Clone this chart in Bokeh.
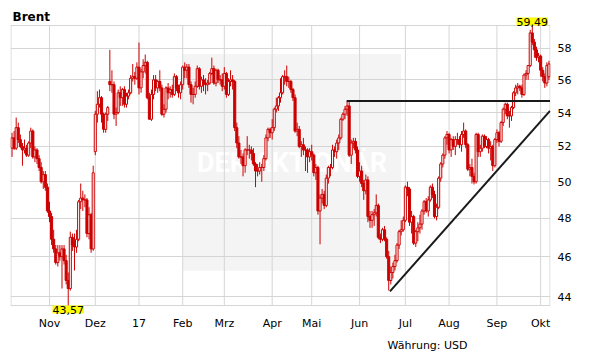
import math
from bokeh.plotting import figure
from bokeh.models import FixedTicker, PrintfTickFormatter, Range1d, Label, ColumnDataSource, Title
from bokeh.core.properties import value
from bokeh.embed import file_html
from bokeh.resources import INLINE

title_text = "Brent"
currency_note = "Währung: USD"
high_label = "59,49"
low_label = "43,57"

# first trading day (bar index) of each month and its label
month_start = [18, 40, 61, 82, 102, 125, 144, 167, 189, 210, 233, 254]
month_labels = ["Nov", "Dez", "17", "Feb", "Mrz", "Apr", "Mai", "Jun", "Jul", "Aug", "Sep", "Okt"]
y_ticks = [44, 46, 48, 50, 52, 54, 56, 58]
y_min, y_max = 43.57, 59.49

# daily OHLC, Oct 6 2016 .. Oct 6 2017 (one row per month)
opens = [
    51.9, 52.5, 51.9, 53.1, 52.4, 52.0, 51.8, 51.9, 51.5, 52.2, 52.9, 51.4, 51.8, 51.3, 50.8, 50.0, 50.4, 49.7,
    48.4, 48.1, 46.9, 46.4, 45.7, 46.2, 46.0, 46.4, 45.8, 44.8, 44.4, 47.0, 46.6, 46.5, 46.9, 48.9, 49.1, 49.0, 49.0, 47.2, 48.2, 46.4,
    51.7, 53.9, 54.5, 54.9, 53.9, 53.0, 53.9, 55.9, 55.7, 55.7, 53.9, 54.0, 55.2, 54.9, 55.4, 54.5, 55.0, 55.2, 56.1, 56.2, 56.1,
    56.8, 55.5, 56.5, 56.9, 57.1, 54.9, 53.6, 55.1, 56.0, 55.5, 55.9, 55.5, 53.9, 54.2, 55.5, 55.2, 55.4, 55.1, 56.2, 55.5, 55.2,
    55.7, 56.8, 56.6, 56.8, 55.7, 55.1, 55.1, 55.6, 56.7, 55.6, 56.0, 55.8, 55.7, 55.8, 56.4, 56.7, 55.8, 56.6, 56.0, 56.0,
    55.6, 56.4, 55.1, 55.9, 56.0, 55.9, 53.1, 52.2, 51.4, 51.4, 50.9, 51.8, 51.8, 51.8, 51.6, 51.0, 50.6, 50.6, 50.8, 50.8, 51.3, 52.5, 53.0,
    52.8, 53.1, 54.2, 54.4, 54.9, 55.2, 56.2, 56.2, 55.9, 55.9, 55.4, 54.9, 52.9, 53.0, 52.0, 52.1, 51.8, 51.8, 51.4,
    51.7, 51.5, 50.5, 50.8, 48.4, 49.1, 49.3, 48.7, 50.2, 50.8, 50.8, 51.8, 51.7, 52.2, 52.5, 53.6, 53.9, 54.2, 54.4, 51.5, 52.2, 52.3, 51.8,
    50.3, 50.6, 49.9, 49.5, 50.1, 48.1, 47.9, 48.2, 48.3, 48.7, 47.0, 46.9, 47.4, 46.9, 46.0, 44.8, 45.2, 45.5, 45.8, 46.6, 47.3, 47.4,
    47.9, 49.7, 49.6, 47.8, 48.1, 46.7, 47.3, 47.5, 47.7, 48.4, 48.9, 48.4, 49.0, 49.7, 49.3, 48.1, 48.6, 50.2, 51.0, 51.5, 52.5,
    52.7, 51.8, 52.4, 52.0, 52.4, 52.4, 52.1, 52.7, 52.9, 52.1, 50.7, 50.8, 50.3, 50.0, 52.7, 51.7, 51.9, 52.6, 52.0, 52.4, 51.9, 52.0, 50.9,
    52.4, 52.8, 52.3, 53.4, 54.2, 54.5, 53.8, 53.8, 54.3, 55.2, 55.5, 55.6, 55.5, 55.1, 56.3, 56.4, 56.9, 59.0, 58.4, 57.9, 57.4,
    57.5, 56.6, 56.2, 55.8, 56.2,
]
highs = [
    52.8, 52.9, 53.7, 53.4, 52.7, 52.2, 52.4, 52.1, 52.3, 53.1, 53.0, 52.0, 51.9, 51.5, 51.1, 50.6, 50.6, 49.9,
    48.9, 48.3, 47.4, 46.6, 46.6, 46.6, 46.6, 46.6, 46.1, 45.2, 47.3, 47.2, 47.2, 47.4, 49.0, 49.9, 49.5, 49.3, 49.1, 48.6, 48.3, 50.9,
    54.1, 55.3, 55.4, 55.0, 54.0, 54.0, 54.4, 57.9, 56.6, 55.9, 54.3, 55.4, 55.6, 55.5, 55.6, 55.2, 55.4, 56.3, 57.0, 56.5, 57.1,
    58.37, 56.7, 57.3, 57.6, 57.2, 55.2, 55.4, 56.3, 56.3, 56.0, 56.6, 55.7, 54.5, 55.6, 55.8, 55.6, 55.7, 56.4, 56.3, 55.7, 55.9,
    56.9, 57.1, 57.0, 57.0, 55.9, 55.5, 55.9, 56.9, 56.8, 56.2, 56.3, 56.1, 56.0, 56.5, 57.4, 56.9, 56.7, 56.7, 56.3, 56.4,
    56.8, 56.5, 56.1, 56.6, 56.3, 56.0, 53.4, 52.6, 51.8, 51.6, 51.9, 52.6, 52.1, 52.0, 51.9, 51.1, 51.0, 51.1, 51.0, 51.5, 52.7, 53.1, 53.1,
    53.6, 54.3, 54.9, 55.0, 56.1, 56.3, 56.6, 56.9, 56.2, 56.0, 55.5, 55.1, 53.4, 53.2, 52.3, 52.5, 52.0, 51.9, 51.9,
    52.1, 51.6, 51.0, 50.9, 49.3, 49.6, 49.5, 50.4, 50.9, 51.0, 52.1, 52.0, 52.4, 52.7, 53.7, 54.0, 54.4, 54.7, 54.7, 52.4, 52.5, 52.5, 52.0,
    51.1, 50.9, 50.1, 50.4, 50.3, 48.4, 48.4, 48.5, 49.3, 48.8, 47.2, 47.5, 47.6, 47.0, 46.3, 45.5, 45.7, 46.1, 46.7, 47.4, 47.9, 48.1,
    49.8, 50.0, 49.7, 48.4, 48.2, 47.4, 47.8, 48.2, 48.5, 49.0, 49.1, 49.2, 49.8, 49.9, 49.5, 48.8, 50.3, 51.1, 51.6, 52.6, 52.9,
    52.8, 52.5, 52.6, 52.6, 52.8, 52.6, 52.9, 53.4, 53.0, 52.2, 51.0, 51.3, 50.5, 52.8, 52.8, 52.1, 52.7, 52.7, 52.6, 52.5, 52.3, 52.1, 52.5,
    53.0, 52.9, 53.5, 54.3, 54.6, 54.6, 54.1, 54.4, 55.3, 55.7, 55.8, 55.7, 55.7, 56.4, 56.6, 56.9, 59.2, 59.49, 58.6, 58.1, 57.7,
    57.6, 56.8, 56.4, 57.1, 57.2,
]
lows = [
    51.4, 51.8, 51.8, 52.2, 51.9, 50.9, 51.6, 51.4, 51.4, 51.9, 51.3, 51.1, 51.0, 50.6, 49.9, 49.6, 49.5, 48.3,
    47.8, 46.6, 46.2, 45.6, 45.5, 45.8, 44.4, 45.6, 44.6, 43.57, 44.3, 46.3, 45.3, 46.2, 46.8, 48.5, 48.4, 48.6, 47.0, 46.9, 46.2, 46.3,
    51.5, 53.4, 54.3, 53.4, 52.8, 52.8, 53.5, 55.3, 55.2, 53.6, 53.2, 53.9, 54.4, 54.4, 54.3, 54.3, 54.8, 55.1, 55.9, 55.7, 56.0,
    55.1, 55.2, 56.1, 56.4, 54.8, 53.6, 53.5, 54.8, 55.3, 55.2, 55.3, 53.8, 53.7, 54.0, 54.8, 54.9, 54.9, 55.0, 55.3, 54.9, 54.8,
    55.4, 56.1, 56.1, 55.5, 54.6, 54.5, 54.9, 55.5, 55.4, 55.2, 55.3, 55.1, 55.3, 55.7, 56.3, 55.7, 55.6, 55.8, 55.7, 55.3,
    55.4, 54.9, 55.0, 55.6, 55.4, 52.9, 51.9, 51.3, 51.0, 50.3, 50.5, 51.5, 51.3, 51.2, 50.9, 49.7, 50.3, 50.4, 50.0, 50.6, 51.2, 52.3, 52.5,
    52.4, 52.9, 54.0, 54.1, 54.6, 55.1, 55.7, 55.6, 55.5, 55.2, 54.7, 52.8, 52.6, 51.9, 51.4, 51.5, 50.6, 50.5, 51.1,
    51.2, 50.3, 50.1, 48.2, 46.64, 48.8, 48.5, 48.6, 49.9, 50.3, 50.7, 51.4, 51.3, 51.8, 52.4, 53.5, 53.6, 53.8, 51.4, 51.0, 51.9, 51.6, 50.2,
    50.0, 49.7, 49.0, 49.3, 47.8, 47.5, 47.5, 47.6, 48.1, 46.9, 46.7, 46.8, 46.8, 45.9, 44.3, 44.6, 44.9, 45.3, 45.7, 46.4, 47.1, 47.3,
    47.8, 49.2, 47.6, 47.2, 46.6, 46.5, 46.8, 47.2, 47.4, 48.2, 48.3, 48.1, 48.9, 49.1, 48.0, 47.9, 48.5, 50.0, 50.8, 51.3, 52.1,
    51.6, 51.4, 51.8, 51.5, 52.1, 51.9, 51.7, 52.5, 51.9, 50.6, 50.3, 49.9, 49.85, 49.9, 51.4, 51.4, 51.7, 51.9, 51.9, 51.6, 51.2, 50.6, 50.8,
    52.2, 52.0, 52.2, 53.2, 53.9, 53.6, 53.1, 53.5, 54.2, 55.0, 55.1, 55.3, 54.9, 55.0, 56.0, 56.0, 56.8, 58.2, 57.4, 57.2, 57.1,
    56.2, 55.9, 55.5, 55.6, 56.0,
]
closes = [
    52.5, 51.9, 53.1, 52.4, 52.0, 51.8, 51.9, 51.5, 52.2, 52.9, 51.4, 51.8, 51.3, 50.8, 50.0, 50.4, 49.7, 48.4,
    48.1, 46.9, 46.4, 45.7, 46.2, 46.0, 46.4, 45.8, 44.8, 44.4, 47.0, 46.6, 46.5, 46.9, 48.9, 49.1, 49.0, 49.0, 47.2, 48.2, 46.4, 50.5,
    53.9, 54.5, 54.9, 53.9, 53.0, 53.9, 54.3, 55.7, 55.7, 53.9, 54.0, 55.2, 54.9, 55.4, 54.5, 55.0, 55.2, 56.1, 56.2, 56.1, 56.8,
    55.5, 56.5, 56.9, 57.1, 54.9, 53.6, 55.1, 56.0, 55.5, 55.9, 55.5, 53.9, 54.2, 55.5, 55.2, 55.4, 55.1, 56.2, 55.5, 55.2, 55.7,
    56.8, 56.6, 56.8, 55.7, 55.1, 55.1, 55.6, 56.7, 55.6, 56.0, 55.8, 55.7, 55.8, 56.4, 56.7, 55.8, 56.6, 56.0, 56.0, 55.6,
    56.4, 55.1, 55.9, 56.0, 55.9, 53.1, 52.2, 51.4, 51.4, 50.9, 51.8, 51.8, 51.8, 51.6, 51.0, 50.6, 50.6, 50.8, 50.8, 51.3, 52.5, 53.0, 52.8,
    53.1, 54.2, 54.4, 54.9, 55.2, 56.2, 56.2, 55.9, 55.9, 55.4, 54.9, 52.9, 53.0, 52.0, 52.1, 51.8, 51.8, 51.4, 51.7,
    51.5, 50.5, 50.8, 48.4, 49.1, 49.3, 48.7, 50.2, 50.8, 50.8, 51.8, 51.7, 52.2, 52.5, 53.6, 53.9, 54.2, 54.4, 51.5, 52.2, 52.3, 51.8, 50.3,
    50.6, 49.9, 49.5, 50.1, 48.1, 47.9, 48.2, 48.3, 48.7, 47.0, 46.9, 47.4, 46.9, 46.0, 44.8, 45.2, 45.5, 45.8, 46.6, 47.3, 47.4, 47.9,
    49.7, 49.6, 47.8, 48.1, 46.7, 47.3, 47.5, 47.7, 48.4, 48.9, 48.4, 49.0, 49.7, 49.3, 48.1, 48.6, 50.2, 51.0, 51.5, 52.5, 52.7,
    51.8, 52.4, 52.0, 52.4, 52.4, 52.1, 52.7, 52.9, 52.1, 50.7, 50.8, 50.3, 50.0, 52.7, 51.7, 51.9, 52.6, 52.0, 52.4, 51.9, 52.0, 50.9, 52.4,
    52.8, 52.3, 53.4, 54.2, 54.5, 53.8, 53.8, 54.3, 55.2, 55.5, 55.6, 55.5, 55.1, 56.3, 56.4, 56.9, 59.0, 58.4, 57.9, 57.4, 57.5,
    56.6, 56.2, 55.8, 56.9, 57.0,
]

# drawn-in chart analysis: resistance line and rising trend line (bar index, price)
resistance_x = [161.3, 259.0]
resistance_y = [54.7, 54.7]
trend_x = [182.1, 259.0]
trend_y = [44.26, 54.1]

RED = "#cc0000"
GRID = "#d5d5d5"
FONT = "DejaVu Sans"

n = min(len(opens), len(highs), len(lows), len(closes))
xs = [i + 0.5 for i in range(n)]
tops = [max(opens[i], closes[i]) for i in range(n)]
bottoms = [min(opens[i], closes[i]) for i in range(n)]
fills = ["white" if closes[i] >= opens[i] else RED for i in range(n)]
src = ColumnDataSource(dict(x=xs, high=highs[:n], low=lows[:n], top=tops, bottom=bottoms, fill=fills))

hi_idx = max(range(n), key=lambda i: highs[i])
lo_idx = min(range(n), key=lambda i: lows[i])

# the price area is 280 px tall; the frame extends above / below it so that
# the title and the high / low tags can be drawn as in-frame labels
AREA_PX, PAD_TOP_PX, PAD_BOTTOM_PX = 280, 25, 13
k = math.log(y_max / y_min) / AREA_PX
y_lo = y_min * math.exp(-PAD_BOTTOM_PX * k)
y_hi = y_max * math.exp(PAD_TOP_PX * k)
FRAME_H = AREA_PX + PAD_TOP_PX + PAD_BOTTOM_PX

p = figure(frame_width=540, frame_height=FRAME_H,
           x_range=Range1d(-0.24, n + 0.24), y_range=Range1d(y_lo, y_hi),
           y_axis_type="log", y_axis_location="right",
           output_backend="svg", toolbar_location=None,
           min_border_left=10, min_border_top=0, min_border_right=55, min_border_bottom=40,
           background_fill_color="white", border_fill_color="white",
           outline_line_color=None)

p.add_layout(Title(text=currency_note, align="left", offset=377, text_font=FONT,
                   text_font_style="normal", text_font_size="11px", text_color="black",
                   standoff=8), "below")

# watermark panel
wm = p.quad(left=[82.5], right=[187.4], bottom=[45.29], top=[57.64],
            fill_color="#f4f4f4", line_color=None)
wm.level = "image"
wt = p.text(x=[135.0], y=[51.06], text=["DER AKTIONÄR"], text_color="white",
            text_font=value("Roboto"), text_font_style="bold", text_font_size="27px",
            text_align="center", text_baseline="middle")
wt.level = "image"

month_ticks = [m + 0.5 for m in month_start]
p.xaxis.ticker = FixedTicker(ticks=month_ticks)
p.xaxis.major_label_overrides = {t: lab for t, lab in zip(month_ticks, month_labels)}
p.xgrid.visible = False
p.yaxis.ticker = FixedTicker(ticks=y_ticks)
p.yaxis.formatter = PrintfTickFormatter(format="%d")
p.ygrid.ticker = FixedTicker(ticks=[y_min] + y_ticks + [y_max])
p.ygrid.grid_line_color = GRID
p.ygrid.grid_line_width = 1

# vertical month lines and the left / right edge of the price area
vx = [0] + month_ticks + [n]
vl = p.segment(x0=vx, y0=[y_min] * len(vx), x1=vx, y1=[y_max] * len(vx),
               line_color=GRID, line_width=1)
vl.level = "underlay"

for ax in (p.xaxis, p.yaxis):
    ax.axis_line_color = None
    ax.major_tick_line_color = None
    ax.minor_tick_line_color = None
    ax.major_tick_in = 0
    ax.major_tick_out = 0
    ax.major_label_text_font = FONT
    ax.major_label_text_font_size = "11px"
    ax.major_label_text_color = "black"
p.xaxis.major_label_standoff = -2
p.yaxis.major_label_standoff = 7

p.segment(x0="x", y0="low", x1="x", y1="high", source=src, line_color=RED, line_width=1)
p.vbar(x="x", width=1.0, top="top", bottom="bottom", source=src,
       fill_color="fill", line_color=RED, line_width=1)

p.line(resistance_x, resistance_y, line_color="#1a1a1a", line_width=2)
p.line(trend_x, trend_y, line_color="#1a1a1a", line_width=2)

p.add_layout(Label(x=hi_idx + 0.5, y=y_max, text=high_label, text_align="center",
                   text_baseline="bottom", text_font=FONT, text_font_size="11px",
                   text_color="black", background_fill_color="#ffff00"))
p.add_layout(Label(x=lo_idx + 0.5, y=y_min, text=low_label, text_align="center",
                   text_baseline="top", text_font=FONT, text_font_size="11px",
                   text_color="black", background_fill_color="#ffff00"))
p.add_layout(Label(x=2, y=FRAME_H - 16,
                   x_units="screen", y_units="screen", text=title_text,
                   text_font=FONT, text_font_style="bold", text_font_size="12px",
                   text_color="black", text_baseline="alphabetic"))

open("out.html", "w").write(file_html(p, INLINE))
